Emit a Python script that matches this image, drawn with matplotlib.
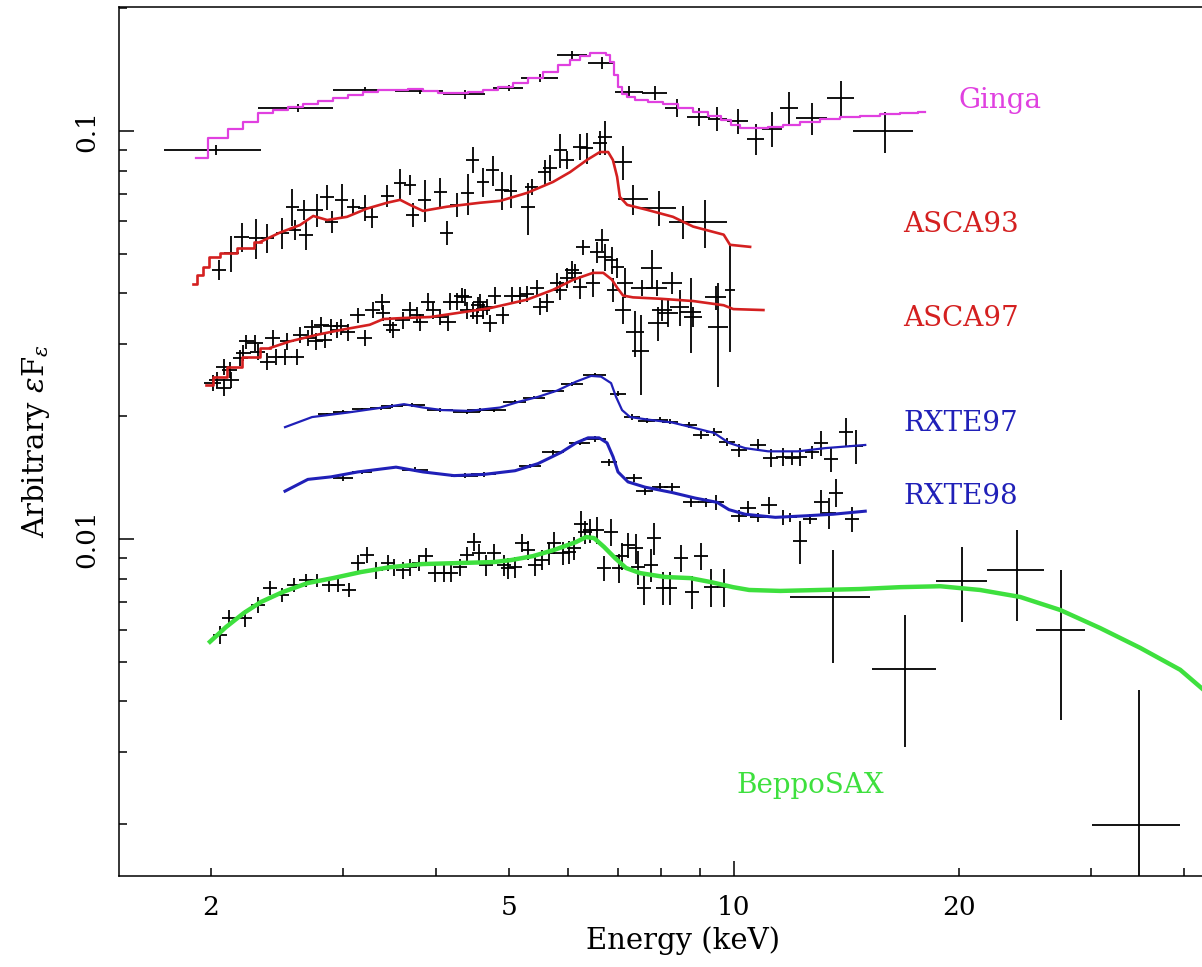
import matplotlib
matplotlib.use("Agg")
import matplotlib.pyplot as plt
from matplotlib.ticker import FixedLocator, FuncFormatter

# ---- Ginga ----
ginga_e = [2.03, 2.615, 3.21, 3.80, 4.37, 5.00, 5.51, 6.08, 6.66, 7.25, 7.84, 8.38, 8.97,
           9.50, 10.12, 10.70, 11.25, 11.85, 12.70, 13.90, 15.90]
ginga_de = [0.30, 0.30, 0.30, 0.28, 0.28, 0.23, 0.31, 0.28, 0.28, 0.31, 0.30, 0.28, 0.31,
            0.28, 0.33, 0.28, 0.36, 0.34, 0.60, 0.58, 1.46]
ginga_f = [0.0898, 0.1138, 0.126, 0.1254, 0.123, 0.1274, 0.135, 0.1535, 0.1468, 0.1246, 0.1239,
           0.1138, 0.1082, 0.107, 0.1058, 0.0956, 0.1011, 0.1138, 0.1076, 0.1205, 0.100]
ginga_df = [0.0025, 0.0025, 0.002, 0.002, 0.003, 0.002, 0.003, 0.0035, 0.005, 0.0042, 0.0048,
            0.0057, 0.0054, 0.0072, 0.0077, 0.0085, 0.010, 0.011, 0.0097, 0.0124, 0.0115]
ginga_model_e = [1.91, 2.056, 2.153, 2.255, 2.362, 2.473, 2.59, 2.712, 2.84, 2.975,
                 3.115, 3.262, 3.416, 3.578, 3.747, 3.924, 4.109, 4.303, 4.507, 4.721,
                 4.943, 5.178, 5.423, 5.679, 5.947, 6.132, 6.325, 6.522, 6.685, 6.788,
                 6.873, 6.958, 7.045, 7.132, 7.266, 7.492, 7.847, 8.217, 8.605, 9.01,
                 9.437, 9.793, 10.04, 10.35, 10.84, 11.35, 11.89, 12.65, 13.44, 14.3,
                 15.21, 16.17, 17.2, 18.01]
ginga_model_f = [0.0859, 0.0961, 0.1011, 0.1052, 0.1107, 0.1126, 0.1145, 0.1165, 0.1184, 0.1205,
                 0.1225, 0.1246, 0.126, 0.126, 0.1267, 0.1253, 0.1239, 0.1239, 0.1246, 0.126,
                 0.1282, 0.1311, 0.1349, 0.1395, 0.1451, 0.1493, 0.1527, 0.1553, 0.1553, 0.1536,
                 0.1476, 0.1372, 0.1282, 0.1232, 0.1212, 0.1191, 0.1178, 0.1165, 0.1139, 0.1113,
                 0.1088, 0.1064, 0.1034, 0.1017, 0.1017, 0.1023, 0.1034, 0.1052, 0.107, 0.1082,
                 0.1088, 0.1101, 0.1107, 0.1113]

# ---- ASCA 1993 ----
asca93_e = [2.05, 2.13, 2.20, 2.30, 2.38, 2.49, 2.57, 2.59, 2.68, 2.66, 2.77, 2.90, 2.86, 2.99,
            3.10, 3.21, 3.28, 3.44, 3.58, 3.69, 3.72, 3.86, 4.05, 4.13, 4.26, 4.41, 4.48, 4.62,
            4.76, 4.90, 5.03, 5.31, 5.37, 5.59, 5.68, 5.86, 5.99, 6.23, 6.36, 6.62, 6.73, 7.11,
            7.33, 7.94, 8.55, 9.15, 9.88]
asca93_de = [0.045, 0.05, 0.05, 0.05, 0.05, 0.05, 0.05, 0.05, 0.055, 0.055, 0.055, 0.06, 0.06, 0.06,
             0.06, 0.065, 0.065, 0.07, 0.07, 0.07, 0.07, 0.08, 0.08, 0.08, 0.085, 0.09, 0.09, 0.09,
             0.1, 0.1, 0.1, 0.11, 0.11, 0.11, 0.12, 0.12, 0.12, 0.13, 0.13, 0.14, 0.14, 0.20,
             0.34, 0.42, 0.35, 0.65, 0.15]
asca93_f = [0.0457, 0.0503, 0.0550, 0.0547, 0.0547, 0.0563, 0.0652, 0.0572, 0.0557, 0.0641, 0.0641,
            0.0598, 0.0689, 0.0678, 0.0652, 0.0648, 0.0616, 0.0693, 0.0746, 0.0738, 0.0623, 0.0678,
            0.0709, 0.0563, 0.0659, 0.0705, 0.0849, 0.0750, 0.0802, 0.0717, 0.0713, 0.0652, 0.0730,
            0.0793, 0.0812, 0.0898, 0.0849, 0.0914, 0.0909, 0.0935, 0.0967, 0.0839, 0.0681, 0.0648,
            0.0598, 0.0598, 0.0407]
asca93_df = [0.0026, 0.0051, 0.0044, 0.0062, 0.0044, 0.0048, 0.0068, 0.0032, 0.0047, 0.0036, 0.006,
             0.0037, 0.0047, 0.0065, 0.0029, 0.0048, 0.0038, 0.0043, 0.0063, 0.0042, 0.0042, 0.008,
             0.006, 0.0038, 0.0045, 0.0081, 0.0062, 0.006, 0.0068, 0.0076, 0.0065, 0.0095, 0.0033,
             0.0054, 0.006, 0.0085, 0.0043, 0.0067, 0.0078, 0.0064, 0.0093, 0.0081, 0.0058, 0.0064,
             0.0055, 0.008, 0.012]
asca93_model_e = [1.892, 1.934, 1.97, 2.01, 2.10, 2.23, 2.33, 2.47, 2.63, 2.74, 2.86, 3.04,
                  3.23, 3.44, 3.58, 3.69, 3.84, 4.13, 4.58, 4.87, 5.29, 5.73, 6.04, 6.36,
                  6.62, 6.79, 6.89, 6.98, 7.04, 7.20, 7.65, 8.29, 8.82, 9.69, 9.88, 10.51]
asca93_model_f = [0.0422, 0.0444, 0.0465, 0.0491, 0.0502, 0.0517, 0.0535, 0.0563, 0.0588, 0.0619,
                  0.0605, 0.0616, 0.0645, 0.0667, 0.0678, 0.0659, 0.0637, 0.0652, 0.0667, 0.0674,
                  0.0705, 0.0750, 0.0793, 0.0849, 0.0888, 0.0888, 0.0849, 0.0772, 0.0689, 0.0659,
                  0.0641, 0.0616, 0.0583, 0.0557, 0.0526, 0.0520]

# ---- ASCA 1997 ----
asca97_e = [2.01, 2.04, 2.08, 2.08, 2.13, 2.12, 2.19, 2.21, 2.23, 2.29, 2.31, 2.38, 2.42, 2.44,
            2.51, 2.53, 2.61, 2.63, 2.70, 2.73, 2.76, 2.81, 2.84, 2.89, 2.95, 2.98, 3.05, 3.14,
            3.21, 3.29, 3.39, 3.40, 3.47, 3.50, 3.61, 3.69, 3.77, 3.81, 3.90, 3.96, 4.05, 4.15,
            4.18, 4.26, 4.33, 4.40, 4.54, 4.58, 4.68, 4.37, 4.48, 4.55, 4.62, 4.72, 4.79, 4.91,
            5.05, 5.18, 5.29, 5.46, 5.51, 5.63, 5.80, 5.86, 5.98, 6.08, 6.13, 6.23, 6.29, 6.48,
            6.56, 6.67, 6.73, 6.87, 6.90, 6.98, 7.15, 7.11, 7.38, 7.51, 7.54, 7.77, 7.89, 7.92,
            8.02, 8.27, 8.16, 8.47, 8.76, 8.82, 9.52, 9.46]
asca97_de = [0.05, 0.05, 0.05, 0.05, 0.05, 0.05, 0.05, 0.05, 0.05,
             0.055, 0.055, 0.055, 0.055, 0.055, 0.055, 0.055, 0.055, 0.055,
             0.065, 0.065, 0.065, 0.065, 0.065, 0.065, 0.065, 0.065, 0.065,
             0.075, 0.075, 0.075, 0.075, 0.075, 0.075, 0.075,
             0.085, 0.085, 0.085, 0.085, 0.085, 0.085, 0.085,
             0.1, 0.1, 0.1, 0.1, 0.1, 0.1, 0.1, 0.1, 0.1, 0.1, 0.1, 0.1, 0.1, 0.1, 0.1,
             0.12, 0.12, 0.12, 0.12, 0.12, 0.12,
             0.13, 0.13, 0.13, 0.13, 0.13, 0.13,
             0.14, 0.14, 0.14, 0.14, 0.14, 0.14, 0.14, 0.14,
             0.18, 0.18, 0.2, 0.2,
             0.25, 0.25, 0.25, 0.25, 0.25, 0.25, 0.25, 0.25,
             0.28, 0.25, 0.3, 0.3]
asca97_f = [0.0241, 0.0245, 0.0235, 0.0264, 0.0245, 0.0260, 0.0278, 0.0286, 0.0305, 0.0303, 0.0288,
            0.0272, 0.0311, 0.0280, 0.0280, 0.0305, 0.0280, 0.0317, 0.0311, 0.0330, 0.0305, 0.0335,
            0.0308, 0.0332, 0.0326, 0.0332, 0.0321, 0.0354, 0.0311, 0.0364, 0.0382, 0.0358, 0.0335,
            0.0326, 0.0344, 0.0364, 0.0354, 0.0340, 0.0382, 0.0364, 0.0350, 0.0340, 0.0382, 0.0382,
            0.0395, 0.0364, 0.0352, 0.0380, 0.0370, 0.0391, 0.0364, 0.0375, 0.0364, 0.0338, 0.0395,
            0.0354, 0.0395, 0.0395, 0.0399, 0.0412, 0.0371, 0.0380, 0.0425, 0.0408, 0.0437, 0.0457,
            0.0449, 0.0415, 0.0520, 0.0425, 0.0505, 0.0541, 0.0491, 0.0483, 0.0408, 0.0463, 0.0425,
            0.0364, 0.0321, 0.0289, 0.0412, 0.0462, 0.0412, 0.0338, 0.0364, 0.0425, 0.0358, 0.0370,
            0.0361, 0.0350, 0.0330, 0.0391]
asca97_df = [0.0011, 0.0011, 0.0011, 0.0012, 0.0011, 0.0012, 0.0013, 0.0013, 0.0012, 0.0014,
             0.0013, 0.0013, 0.0014, 0.0013, 0.0013, 0.0014, 0.0013, 0.0014, 0.0014, 0.0015,
             0.0014, 0.0015, 0.0014, 0.0015, 0.0015, 0.0015, 0.0015,
             0.0015, 0.0014, 0.0016, 0.0017, 0.0016, 0.0015, 0.0015, 0.0016, 0.0017, 0.0016,
             0.0016, 0.0018, 0.0017, 0.0016, 0.0016, 0.0018, 0.0018, 0.0017, 0.0017, 0.0016,
             0.0018, 0.0017, 0.0018, 0.0017, 0.0017, 0.0017, 0.0016, 0.0019, 0.0017, 0.0019,
             0.0019, 0.0019, 0.0020, 0.0018, 0.0019,
             0.0024, 0.0022, 0.0025, 0.0024, 0.0024, 0.0027, 0.0022, 0.0033, 0.003, 0.0033,
             0.0036, 0.0036, 0.0027, 0.0026, 0.0036, 0.0027, 0.0042, 0.0064, 0.0019, 0.005,
             0.0019, 0.0032, 0.0021, 0.0027, 0.0027, 0.0037, 0.0075, 0.002, 0.0094, 0.0027]
asca97_model_e = [1.97, 2.056, 2.14, 2.255, 2.40, 2.55, 2.78, 3.00, 3.26, 3.40, 3.61, 3.93, 4.27,
                  4.72, 5.29, 5.73, 6.10, 6.48, 6.69, 6.87, 6.98, 7.11, 7.33, 7.97, 8.82, 9.69,
                  9.98, 10.95]
asca97_model_f = [0.0239, 0.0249, 0.0264, 0.0280, 0.0294, 0.0305, 0.0317, 0.0326, 0.0335, 0.0346,
                  0.0348, 0.0350, 0.0358, 0.0368, 0.0386, 0.0408, 0.0432, 0.0449, 0.0449, 0.0432,
                  0.0413, 0.0395, 0.0391, 0.0388, 0.0383, 0.0374, 0.0366, 0.0364]

# ---- RXTE 1997 ----
rxte97_e = [2.857, 3.002, 3.183, 3.375, 3.491, 3.714, 4.048, 4.398, 4.578, 4.779, 5.098, 5.406,
            5.731, 6.077, 6.522, 6.999, 7.309, 7.653, 7.966, 8.215, 8.707, 9.038, 9.405, 9.789,
            10.16, 10.77, 11.21, 11.64, 11.96, 12.26, 12.73, 13.08, 13.49, 14.13, 14.56]
rxte97_de = [0.08, 0.09, 0.1, 0.11, 0.12, 0.15, 0.16, 0.18, 0.18, 0.18, 0.18, 0.18, 0.19, 0.2,
             0.23, 0.17, 0.18, 0.2, 0.2, 0.2, 0.22, 0.22, 0.23, 0.24, 0.25, 0.26, 0.26, 0.27,
             0.27, 0.28, 0.28, 0.28, 0.3, 0.3, 0.3]
rxte97_f = [0.0202, 0.0205, 0.0208, 0.0209, 0.0212, 0.0213, 0.0207, 0.0205, 0.0207, 0.0207, 0.0217,
            0.0222, 0.0230, 0.0240, 0.0252, 0.0227, 0.0199, 0.0195, 0.0196, 0.0194, 0.0190, 0.0180,
            0.0183, 0.0173, 0.0165, 0.0170, 0.0158, 0.0159, 0.0158, 0.0159, 0.0163, 0.0172, 0.0157,
            0.0183, 0.0169]
rxte97_df = [0.0002, 0.0002, 0.0002, 0.0002, 0.0002, 0.0002, 0.0002, 0.0002, 0.0002, 0.0002,
             0.0002, 0.0002, 0.0002, 0.0003, 0.0003, 0.0003, 0.0003, 0.0003, 0.0003, 0.0003,
             0.0003, 0.0004, 0.0004, 0.0004, 0.0006, 0.0006, 0.0008, 0.0008, 0.0006, 0.0008,
             0.0006, 0.0012, 0.0011, 0.0015, 0.0016]
rxte97_model_e = [2.512, 2.73, 3.039, 3.333, 3.623, 3.841, 4.073, 4.424, 4.869, 5.16, 5.471,
                  5.802, 6.152, 6.443, 6.644, 6.852, 6.957, 7.087, 7.264, 7.699, 8.266, 8.764,
                  9.405, 9.848, 10.35, 11.11, 12.18, 13.24, 14.98]
rxte97_model_f = [0.0188, 0.0199, 0.0204, 0.0209, 0.0214, 0.0210, 0.0207, 0.0206, 0.0210, 0.0217,
                  0.0223, 0.0231, 0.0243, 0.0251, 0.0250, 0.0241, 0.0223, 0.0207, 0.0199, 0.0196,
                  0.0193, 0.0188, 0.0182, 0.0172, 0.0167, 0.0164, 0.0164, 0.0167, 0.0170]

# ---- RXTE 1998 ----
rxte98_e = [3.002, 3.183, 3.747, 4.371, 4.635, 5.34, 5.731, 6.228, 6.522, 6.81, 7.354, 7.606,
            7.966, 8.266, 8.764, 9.18, 9.47, 10.16, 10.45, 10.77, 11.14, 11.64, 11.89, 12.26,
            12.65, 13.08, 13.41, 13.70, 14.39]
rxte98_de = [0.09, 0.1, 0.15, 0.18, 0.18, 0.18, 0.19, 0.2, 0.23, 0.17, 0.18, 0.2, 0.2, 0.2,
             0.22, 0.22, 0.23, 0.25, 0.26, 0.26, 0.26, 0.27, 0.27, 0.28, 0.28, 0.28, 0.3, 0.3, 0.3]
rxte98_f = [0.0141, 0.0146, 0.0148, 0.0143, 0.0144, 0.0151, 0.0163, 0.0172, 0.0176, 0.0154, 0.0141,
            0.0131, 0.0134, 0.0134, 0.0123, 0.0123, 0.0123, 0.0114, 0.0119, 0.0113, 0.0121, 0.0113,
            0.0113, 0.0099, 0.0112, 0.0123, 0.0116, 0.0130, 0.0112]
rxte98_df = [0.0002, 0.0002, 0.0002, 0.0002, 0.0002, 0.0002, 0.0002, 0.0002, 0.0003, 0.0003,
             0.0003, 0.0003, 0.0003, 0.0003, 0.0003, 0.0003, 0.0005, 0.0004, 0.0005, 0.0003,
             0.0006, 0.0005, 0.0003, 0.0012, 0.0003, 0.0009, 0.001, 0.001, 0.0008]
rxte98_model_e = [2.512, 2.695, 2.894, 3.143, 3.535, 3.841, 4.225, 4.635, 5.098, 5.471, 5.874,
                  6.152, 6.384, 6.603, 6.767, 6.894, 6.999, 7.219, 7.606, 8.266, 8.872, 9.494,
                  9.848, 10.35, 11.36, 12.49, 13.57, 14.98]
rxte98_model_f = [0.0131, 0.0140, 0.0142, 0.0146, 0.0150, 0.0146, 0.0143, 0.0144, 0.0147, 0.0153,
                  0.0163, 0.0172, 0.0177, 0.0177, 0.0172, 0.0159, 0.0146, 0.0138, 0.0134, 0.0130,
                  0.0126, 0.0123, 0.0118, 0.0115, 0.0113, 0.0114, 0.0115, 0.0117]

# ---- BeppoSAX ----
beppo_e = [2.056, 2.114, 2.221, 2.31, 2.399, 2.489, 2.582, 2.679, 2.772, 2.874, 2.956, 3.057,
           3.143, 3.232, 3.323, 3.448, 3.513, 3.612, 3.691, 3.793, 3.876, 3.985, 4.098, 4.187,
           4.305, 4.398, 4.494, 4.562, 4.663, 4.779, 4.929, 4.989, 5.098, 5.21, 5.305, 5.422,
           5.541, 5.66, 5.749, 5.91, 6.018, 6.114, 6.247, 6.324, 6.423, 6.562, 6.706, 6.852,
           7.02, 7.088, 7.217, 7.398, 7.443, 7.583, 7.749, 7.82, 8.039, 8.215, 8.498, 8.791,
           9.038, 9.32, 9.70, 13.55, 16.95, 20.2, 23.9, 27.4, 34.8]
beppo_de = [0.045, 0.046, 0.048, 0.05, 0.052, 0.054, 0.056, 0.058, 0.06, 0.062, 0.064, 0.066,
            0.068, 0.07, 0.072, 0.074, 0.076, 0.078, 0.08, 0.082, 0.084, 0.086, 0.088, 0.09,
            0.093, 0.095, 0.097, 0.098, 0.1, 0.103, 0.106, 0.107, 0.11, 0.112, 0.114, 0.117,
            0.12, 0.122, 0.124, 0.127, 0.13, 0.131,
            0.134, 0.136, 0.138, 0.141, 0.144, 0.147, 0.151, 0.152, 0.155, 0.159, 0.16, 0.163,
            0.167, 0.168, 0.173, 0.177, 0.183, 0.189, 0.194, 0.2, 0.21,
            1.66, 1.65, 1.6, 2.1, 2.1, 4.7]
beppo_f = [0.00582, 0.0064, 0.0064, 0.0069, 0.00758, 0.0073, 0.00771, 0.00793, 0.00793, 0.00771,
           0.00771, 0.0075, 0.00873, 0.00914, 0.00839, 0.00873, 0.00853, 0.00839, 0.00853, 0.00873,
           0.00908, 0.00825, 0.00825, 0.00825, 0.00853, 0.00914, 0.00983, 0.00924, 0.00863, 0.00924,
           0.00863, 0.00849, 0.00853, 0.00978, 0.0094, 0.00863, 0.00888, 0.00924, 0.00978, 0.00924,
           0.0093, 0.0095, 0.0109, 0.0104, 0.0105, 0.0105, 0.00849, 0.0104, 0.00849, 0.00908,
           0.00966, 0.0095, 0.00853, 0.00758, 0.00863, 0.01005, 0.00758, 0.00758, 0.00898, 0.00742,
           0.00908, 0.00762, 0.00762, 0.0072, 0.0048, 0.0079, 0.0084, 0.006, 0.00199]
beppo_df = [0.0003, 0.0003, 0.0003, 0.0003, 0.0003, 0.0003, 0.0003, 0.0003, 0.0003, 0.0003,
            0.0003, 0.0003,
            0.0004, 0.0004, 0.0004, 0.0004, 0.0004, 0.0004, 0.0004, 0.0004, 0.0004, 0.0004,
            0.0004, 0.0004, 0.0004, 0.0004,
            0.0005, 0.0005, 0.0005, 0.0005, 0.0005, 0.0005, 0.0005, 0.0005, 0.0005, 0.0005,
            0.0005,
            0.0006, 0.0006, 0.0006, 0.0006, 0.0006,
            0.0008, 0.0007, 0.0007, 0.0008, 0.0006, 0.0008, 0.0007, 0.0007, 0.0007, 0.0008,
            0.0008, 0.0007, 0.0008, 0.0009, 0.0007, 0.0007, 0.0007, 0.0007, 0.0007, 0.0008,
            0.0008,
            0.00222, 0.0017, 0.00165, 0.0021, 0.0024, 0.00228]
beppo_model_e = [1.994, 2.094, 2.214, 2.333, 2.497, 2.695, 2.912, 3.174, 3.47, 3.83,
                 4.277, 4.779, 5.037, 5.389, 5.749, 6.152, 6.343, 6.502, 6.706, 6.936,
                 7.174, 7.491, 8.089, 8.737, 9.32, 9.973, 10.48, 11.53, 13.04, 14.75,
                 16.68, 18.87, 21.33, 24.13, 27.29, 30.86, 34.91, 39.49, 43.6, 48.5]
beppo_model_f = [0.0056, 0.00608, 0.00659, 0.00701, 0.00742, 0.0078, 0.00802, 0.0083, 0.00853, 0.00868,
                 0.00873, 0.00878, 0.00888, 0.00908, 0.0094, 0.00983, 0.01011, 0.01005, 0.00956, 0.00898,
                 0.00849, 0.00825, 0.00807, 0.00802, 0.00784, 0.00762, 0.0075, 0.00746, 0.0075, 0.00754,
                 0.00762, 0.00766, 0.0075, 0.00721, 0.0067, 0.00605, 0.00541, 0.00478, 0.00409, 0.00354]

MAGENTA = "#e040e0"
RED = "#d42020"
BLUE = "#2020b8"
GREEN = "#3ee03e"

plt.rcParams['font.family'] = ['DejaVu Serif']
plt.rcParams['mathtext.fontset'] = 'dejavuserif'


def draw_model(ax, e, f, color, lw, n_steps=0):
    """Folded model: coarse histogram bins below index n_steps, smooth above."""
    if n_steps:
        ax.plot(e[:n_steps + 1], f[:n_steps + 1], color=color, lw=lw,
                drawstyle='steps-mid', zorder=3)
        ax.plot(e[n_steps:], f[n_steps:], color=color, lw=lw, zorder=3)
    else:
        ax.plot(e, f, color=color, lw=lw, zorder=3)


fig = plt.figure(figsize=(12.02, 9.67), dpi=100)
ax = fig.add_axes([119 / 1202, 91 / 967, 1128 / 1202, 869 / 967])
ax.set_xscale('log')
ax.set_yscale('log')

err_kw = dict(fmt='none', ecolor='k', elinewidth=1.3, capsize=0, zorder=2)
for e, de, f, df in [(ginga_e, ginga_de, ginga_f, ginga_df),
                     (asca93_e, asca93_de, asca93_f, asca93_df),
                     (asca97_e, asca97_de, asca97_f, asca97_df),
                     (rxte97_e, rxte97_de, rxte97_f, rxte97_df),
                     (rxte98_e, rxte98_de, rxte98_f, rxte98_df),
                     (beppo_e, beppo_de, beppo_f, beppo_df)]:
    ax.errorbar(e, f, xerr=de, yerr=df, **err_kw)

ax.plot(ginga_model_e, ginga_model_f, color=MAGENTA, lw=1.6, drawstyle='steps-mid', zorder=3)
draw_model(ax, asca93_model_e, asca93_model_f, RED, 1.9, n_steps=6)
draw_model(ax, asca97_model_e, asca97_model_f, RED, 1.9, n_steps=4)
draw_model(ax, rxte97_model_e, rxte97_model_f, BLUE, 1.6)
draw_model(ax, rxte98_model_e, rxte98_model_f, BLUE, 2.2)
draw_model(ax, beppo_model_e, beppo_model_f, GREEN, 3.2)

label_kw = dict(fontsize=20, ha='center', va='center')
ax.text(22.7, 0.119, 'Ginga', color=MAGENTA, **label_kw)
ax.text(20.1, 0.0591, 'ASCA93', color=RED, **label_kw)
ax.text(20.1, 0.0348, 'ASCA97', color=RED, **label_kw)
ax.text(20.1, 0.01924, 'RXTE97', color=BLUE, **label_kw)
ax.text(20.1, 0.01268, 'RXTE98', color=BLUE, **label_kw)
ax.text(12.64, 0.00249, 'BeppoSAX', color=GREEN, **label_kw)

ax.set_xlim(1.507, 48.5)
ax.set_ylim(0.001493, 0.2013)

ax.xaxis.set_major_locator(FixedLocator([10]))
ax.xaxis.set_minor_locator(FixedLocator([2, 3, 4, 5, 6, 7, 8, 9, 20, 30, 40]))
ax.xaxis.set_major_formatter(FuncFormatter(lambda v, p: '%g' % v))
ax.xaxis.set_minor_formatter(FuncFormatter(lambda v, p: '%g' % v if v in (2, 5, 20) else ''))
ax.yaxis.set_major_locator(FixedLocator([0.01, 0.1]))
ax.yaxis.set_minor_locator(FixedLocator([0.002, 0.003, 0.004, 0.005, 0.006, 0.007, 0.008, 0.009,
                                         0.02, 0.03, 0.04, 0.05, 0.06, 0.07, 0.08, 0.09, 0.2]))
ax.yaxis.set_major_formatter(FuncFormatter(lambda v, p: '%g' % v))
ax.yaxis.set_minor_formatter(FuncFormatter(lambda v, p: ''))

ax.tick_params(which='both', direction='in', top=False, right=False, width=1.1,
               labelsize=19, color='k')
ax.tick_params(which='major', length=11)
ax.tick_params(which='minor', length=6)
ax.tick_params(axis='x', which='both', pad=14)
ax.tick_params(axis='y', which='both', pad=14, labelrotation=90)
for lbl in ax.get_yticklabels():
    lbl.set_va('center')

for side in ('left', 'bottom', 'top'):
    ax.spines[side].set_linewidth(1.1)
ax.spines['right'].set_visible(False)

ax.set_xlabel('Energy (keV)', fontsize=21, labelpad=4)
ax.set_ylabel(r'Arbitrary $\epsilon$F$_\epsilon$', fontsize=21, labelpad=16)

fig.savefig('out.png', dpi=100)
